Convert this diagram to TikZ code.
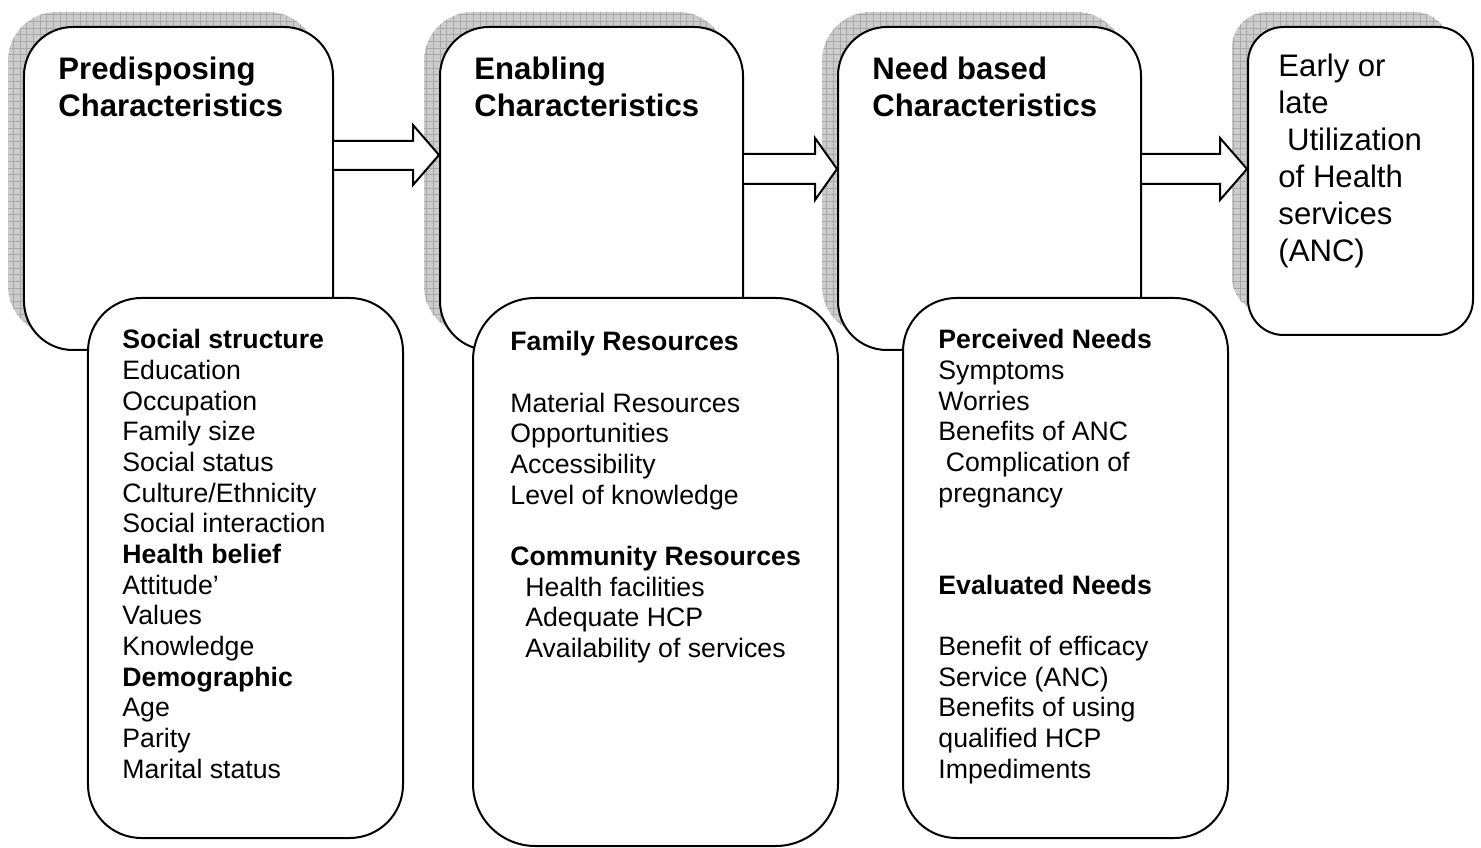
\documentclass[tikz,border=0pt]{standalone}
\usepackage{fontspec}
\setmainfont{Liberation Sans}
\usetikzlibrary{patterns,calc}
\definecolor{shadowGray}{RGB}{204,204,204}
\definecolor{gridGray}{RGB}{168,168,168}
\tikzstyle{outerBox} = [draw=black,line width=0.9pt,fill=white,rounded corners=22pt,inner sep=0pt]
\tikzstyle{innerBox} = [draw=black,line width=0.9pt,fill=white,rounded corners=24pt,inner sep=0pt]
\tikzstyle{shadowArea} = [preaction={fill=shadowGray},pattern=grid,pattern color=gridGray]
\tikzstyle{bigArrow} = [draw=black,line width=0.9pt,fill=white,line join=miter]
\tikzstyle{headText} = [anchor=north west,align=left,inner sep=0pt,font=\fontsize{14}{16.65}\selectfont\bfseries]
\tikzstyle{useText} = [anchor=north west,align=left,inner sep=0pt,font=\fontsize{14}{16.65}\selectfont]
\tikzstyle{listText} = [anchor=north west,align=left,inner sep=0pt,font=\fontsize{12}{13.8}\selectfont]

\begin{document}
\begin{tikzpicture}[x=0.45pt,y=-0.45pt]
\useasboundingbox (0,0) rectangle (1481,848);
% shadows
\path[shadowArea,rounded corners=22pt] (8,12) rectangle (317,335);
\path[shadowArea,rounded corners=22pt] (424,12) rectangle (727,335);
\path[shadowArea,rounded corners=22pt] (822,12) rectangle (1125,335);
\path[shadowArea,rounded corners=16pt] (1232,12) rectangle (1450,313);
% upper boxes
\node[outerBox,minimum width=139.05pt,minimum height=145.35pt] (predisp) at (178.5,188.5) {};
\node[outerBox,minimum width=136.35pt,minimum height=145.35pt] (enabl) at (591.5,188.5) {};
\node[outerBox,minimum width=136.35pt,minimum height=145.35pt] (needb) at (989.5,188.5) {};
\node[outerBox,rounded corners=16pt,minimum width=101.25pt,minimum height=138.6pt] (utilz) at (1360.5,181) {};
\node[headText] (predispT) at (58,57) {Predisposing\\Characteristics};
\node[headText] (enablT) at (474,57) {Enabling\\Characteristics};
\node[headText] (needbT) at (872,57) {Need based\\Characteristics};
\node[useText] (utilzT) at (1278,54) {Early or\\late\\\hspace{3.9pt}Utilization\\of Health\\services\\(ANC)};
% arrows
\draw[bigArrow] (predisp.east |- 0,141) -- (413,141) -- (413,125) -- (enabl.west |- 0,155) -- (413,185) -- (413,170) -- (predisp.east |- 0,170);
\draw[bigArrow] (enabl.east |- 0,154) -- (815,154) -- (815,138) -- (needb.west |- 0,169) -- (815,200) -- (815,184) -- (enabl.east |- 0,184);
\draw[bigArrow] (needb.east |- 0,154) -- (1220,154) -- (1220,138) -- (utilz.west |- 0,169) -- (1220,200) -- (1220,184) -- (needb.east |- 0,184);
% lower boxes
\node[innerBox,minimum width=141.75pt,minimum height=243pt] (predispL) at (245.5,568) {};
\node[innerBox,rounded corners=28pt,minimum width=164.25pt,minimum height=246.6pt] (enablL) at (655.5,572) {};
\node[innerBox,minimum width=146.25pt,minimum height=243pt] (needbL) at (1065.5,568) {};
\node[listText] (predispI) at (122,329) {{\bfseries Social structure}\\Education\\Occupation\\Family size\\Social status\\Culture/Ethnicity\\Social interaction\\{\bfseries Health belief}\\Attitude’\\Values\\Knowledge\\{\bfseries Demographic}\\Age\\Parity\\Marital status};
\node[listText] (enablI) at (510,331) {{\bfseries Family Resources}\\[13.8pt]Material Resources\\Opportunities\\Accessibility\\Level of knowledge\\[13.8pt]{\bfseries Community Resources}\\\hspace{6.7pt}Health facilities\\\hspace{6.7pt}Adequate HCP\\\hspace{6.7pt}Availability of services};
\node[listText] (needbI) at (938,329) {{\bfseries Perceived Needs}\\Symptoms\\Worries\\Benefits of ANC\\\hspace{3.3pt}Complication of\\pregnancy\\[27.6pt]{\bfseries Evaluated Needs}\\[13.8pt]Benefit of efficacy\\Service (ANC)\\Benefits of using\\qualified HCP\\Impediments};
\end{tikzpicture}
\end{document}
